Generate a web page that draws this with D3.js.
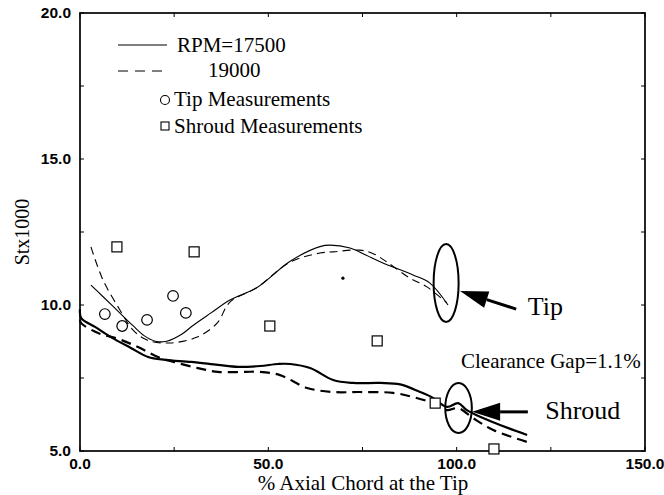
<!DOCTYPE html>
<html><head><meta charset="utf-8">
<script src="https://cdn.jsdelivr.net/npm/d3@7"></script>
<style>html,body{margin:0;padding:0;background:#fff;}svg{display:block;}</style>
</head><body>
<svg id="chart" width="664" height="495"></svg>
<script>
// ---- data ----
const xTickValues = [0, 50, 100, 150];
const xTickLabels = ["0.0", "50.0", "100.0", "150.0"];
const yTickValues = [5, 10, 15, 20];
const yTickLabels = ["5.0", "10.0", "15.0", "20.0"];
const xMinorTicks = [0, 25, 50, 75, 100, 125, 150];
const yMinorTicks = [5, 7.5, 10, 12.5, 15, 17.5, 20];

const tip17500 = [[2.9,10.68],[6,10.3],[10,9.8],[14,9.3],[17,8.95],[20,8.76],[23,8.76],[27,9.0],[30,9.3],[34.8,9.73],[39.8,10.17],[47,10.6],[55.8,11.5],[63.7,12.0],[66.4,12.05],[71.7,11.95],[76,11.7],[80.4,11.44],[88.4,11.03],[92.9,10.75],[97.7,10.0]];
const tip19000 = [[2.9,11.99],[6.1,10.86],[10.6,9.83],[14.1,9.14],[17.8,8.8],[23.9,8.7],[31.1,8.9],[36.4,9.38],[39.8,10.1],[47,10.6],[55.8,11.47],[63.7,11.78],[67.2,11.82],[74.3,11.88],[78,11.75],[81.5,11.47],[87.6,10.92],[92.1,10.62],[97.4,10.07]];
const shroud17500 = [[0,9.85],[0.3,9.55],[4,9.25],[8.2,8.9],[13.5,8.53],[18.1,8.22],[22.6,8.12],[29.5,8.05],[36.6,7.95],[42,7.88],[47.8,7.91],[52.6,7.98],[55.8,7.98],[61.1,7.84],[67.2,7.43],[72.5,7.33],[79.7,7.33],[85,7.28],[90.3,7.02],[93.7,6.82],[97.4,6.51],[100.4,6.64],[102.7,6.4],[107,6.13],[111.5,5.89],[118.7,5.55]];
const shroud19000 = [[0,9.5],[0.3,9.38],[4.8,9.04],[10.1,8.84],[15.4,8.56],[20.7,8.22],[26,8.01],[31.3,7.84],[36.6,7.71],[43.8,7.71],[47.8,7.71],[53.1,7.6],[60.3,7.16],[67.2,7.02],[74.3,7.02],[83.1,6.99],[88.4,6.85],[93.7,6.64],[97.4,6.4],[100.4,6.47],[104.3,6.13],[109.7,5.72],[118.7,5.31]];
const tipMeasX = [6.6, 11.2, 17.8, 24.7, 28.1];
const tipMeasY = [9.69, 9.28, 9.49, 10.31, 9.73];
const shroudMeasX = [9.8, 30.3, 50.4, 78.9, 94.3, 109.9];
const shroudMeasY = [11.99, 11.82, 9.28, 8.77, 6.64, 5.07];
const strayDot = [[69.8, 10.92]];

const legendLabels = ["RPM=17500", "19000", "Tip Measurements", "Shroud Measurements"];
const xTitle = "% Axial Chord at the Tip";
const yTitle = "Stx1000";
const tipLabel = "Tip", shroudLabel = "Shroud", gapLabel = "Clearance Gap=1.1%";

// ---- layout ----
const L = 80, R = 645, T = 13, B = 451;
const serif = "'Liberation Serif','Times New Roman',serif";
const sans = "'Liberation Sans',Arial,sans-serif";
const svg = d3.select("#chart");
const x = d3.scaleLinear().domain([0, 150]).range([L, R]);
const y = d3.scaleLinear().domain([5, 20]).range([B, T]);

// frame
svg.append("rect").attr("x", L).attr("y", T).attr("width", R - L).attr("height", B - T)
  .attr("fill", "none").attr("stroke", "#000").attr("stroke-width", 1.7);

// inward ticks on all sides
const tl = 4;
const g = svg.append("g").attr("stroke", "#000").attr("stroke-width", 1);
xMinorTicks.forEach(v => {
  g.append("line").attr("x1", x(v)).attr("x2", x(v)).attr("y1", B).attr("y2", B - tl);
  g.append("line").attr("x1", x(v)).attr("x2", x(v)).attr("y1", T).attr("y2", T + tl);
});
yMinorTicks.forEach(v => {
  g.append("line").attr("y1", y(v)).attr("y2", y(v)).attr("x1", L).attr("x2", L + tl);
  g.append("line").attr("y1", y(v)).attr("y2", y(v)).attr("x1", R).attr("x2", R - tl);
});

// tick labels
xTickValues.forEach((v, i) => {
  svg.append("text").attr("x", x(v)).attr("y", B + 18).attr("text-anchor", "middle")
    .attr("font-family", sans).attr("font-weight", "bold").attr("font-size", 15.5).text(xTickLabels[i]);
});
yTickValues.forEach((v, i) => {
  svg.append("text").attr("x", L - 9).attr("y", y(v) + 5).attr("text-anchor", "end")
    .attr("font-family", sans).attr("font-weight", "bold").attr("font-size", 15.5).text(yTickLabels[i]);
});

// axis titles
svg.append("text").attr("x", 363).attr("y", 490).attr("text-anchor", "middle")
  .attr("font-family", serif).attr("font-size", 21).text(xTitle);
svg.append("text").attr("transform", "translate(29,232) rotate(-90)").attr("text-anchor", "middle")
  .attr("font-family", serif).attr("font-size", 20).text(yTitle);

// curves
const line = d3.line().x(d => x(d[0])).y(d => y(d[1])).curve(d3.curveCatmullRom.alpha(0.5));
const curves = [
  {data: tip17500, w: 1.1, dash: null},
  {data: tip19000, w: 1.1, dash: "8,5"},
  {data: shroud17500, w: 2.2, dash: null},
  {data: shroud19000, w: 2.2, dash: "10,6"}
];
curves.forEach(c => {
  svg.append("path").attr("d", line(c.data)).attr("fill", "none").attr("stroke", "#000")
    .attr("stroke-width", c.w).attr("stroke-dasharray", c.dash);
});

// measurements
tipMeasX.forEach((v, i) => {
  svg.append("circle").attr("cx", x(v)).attr("cy", y(tipMeasY[i])).attr("r", 5.3)
    .attr("fill", "#fff").attr("stroke", "#000").attr("stroke-width", 1.2);
});
shroudMeasX.forEach((v, i) => {
  svg.append("rect").attr("x", x(v) - 5).attr("y", y(shroudMeasY[i]) - 5).attr("width", 10).attr("height", 10)
    .attr("fill", "#fff").attr("stroke", "#000").attr("stroke-width", 1.2);
});
strayDot.forEach(d => svg.append("circle").attr("cx", x(d[0])).attr("cy", y(d[1])).attr("r", 1.6).attr("fill", "#000"));

// annotations: ellipses
svg.append("ellipse").attr("cx", x(97.2)).attr("cy", y(10.75)).attr("rx", 12.5).attr("ry", 39)
  .attr("fill", "none").attr("stroke", "#000").attr("stroke-width", 2);
svg.append("ellipse").attr("cx", x(100.5)).attr("cy", y(6.47)).attr("rx", 13.3).attr("ry", 25)
  .attr("fill", "none").attr("stroke", "#000").attr("stroke-width", 2);

// arrows
function arrow(x1, y1, x2, y2, headLen, headHalf) {
  const ang = Math.atan2(y2 - y1, x2 - x1);
  const bx = x2 - headLen * Math.cos(ang), by = y2 - headLen * Math.sin(ang);
  svg.append("line").attr("x1", x1).attr("y1", y1).attr("x2", bx).attr("y2", by)
    .attr("stroke", "#000").attr("stroke-width", 3);
  const px = -Math.sin(ang) * headHalf, py = Math.cos(ang) * headHalf;
  svg.append("path").attr("d", `M${x2},${y2}L${bx + px},${by + py}L${bx - px},${by - py}Z`).attr("fill", "#000");
}
arrow(x(115.8), y(9.86), x(100.9), y(10.48), 28, 8.5);
arrow(x(118.9), y(6.34), x(104.1), y(6.34), 28, 9);

// annotation text
svg.append("text").attr("x", x(118.9)).attr("y", y(9.66)).attr("font-family", serif).attr("font-size", 26).text(tipLabel);
svg.append("text").attr("x", x(123.5)).attr("y", y(6.1)).attr("font-family", serif).attr("font-size", 26).text(shroudLabel);
svg.append("text").attr("x", 461).attr("y", 368).attr("font-family", serif).attr("font-size", 21).text(gapLabel);

// legend
const lg = svg.append("g").attr("font-family", serif).attr("font-size", 21);
lg.append("line").attr("x1", 118).attr("x2", 167).attr("y1", 45).attr("y2", 45).attr("stroke", "#000").attr("stroke-width", 1.2);
lg.append("text").attr("x", 177).attr("y", 52).text(legendLabels[0]);
lg.append("line").attr("x1", 118).attr("x2", 163).attr("y1", 71).attr("y2", 71).attr("stroke", "#000").attr("stroke-width", 1.2).attr("stroke-dasharray", "10,7");
lg.append("text").attr("x", 208).attr("y", 77).text(legendLabels[1]);
lg.append("circle").attr("cx", 165).attr("cy", 100).attr("r", 4.5).attr("fill", "#fff").attr("stroke", "#000").attr("stroke-width", 1.1);
lg.append("text").attr("x", 174).attr("y", 106).text(legendLabels[2]);
lg.append("rect").attr("x", 161).attr("y", 122).attr("width", 8).attr("height", 8).attr("fill", "#fff").attr("stroke", "#000").attr("stroke-width", 1.1);
lg.append("text").attr("x", 174).attr("y", 133).text(legendLabels[3]);
</script>
</body></html>
